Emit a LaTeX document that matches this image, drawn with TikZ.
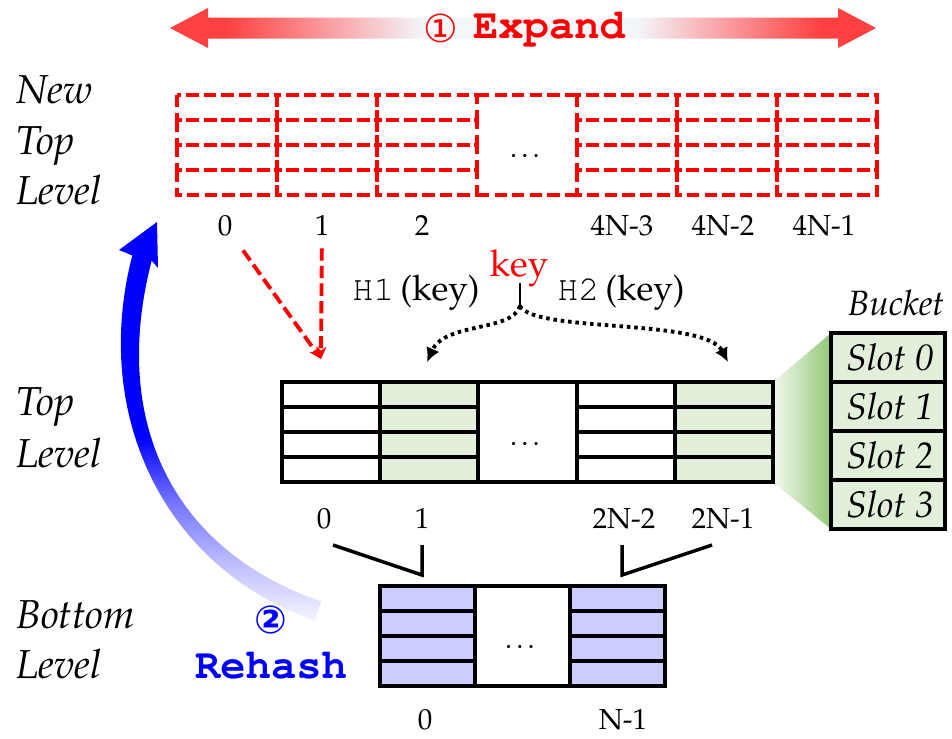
\documentclass[tikz,border=0pt]{standalone}
\usepackage{fontspec}
\usepackage[T1]{fontenc}
\usepackage{mathpazo}
\newfontfamily\circfont{DejaVu Sans}
\newcommand\cour{\fontfamily{pcr}\selectfont}
\usetikzlibrary{arrows.meta}

\definecolor{newred}{RGB}{255,0,0}
\definecolor{arrowred}{RGB}{255,64,64}
\definecolor{paleblue}{RGB}{243,247,252}
\definecolor{cellgreen}{RGB}{226,239,218}
\definecolor{bucketgreen}{RGB}{146,200,118}
\definecolor{cellblue}{RGB}{204,204,255}
\definecolor{rehashblue}{RGB}{0,0,255}

% path bbox is mapped onto 25bp..75bp of the shading
\pgfdeclarehorizontalshading{expandfade}{100bp}{color(0bp)=(arrowred); color(29bp)=(arrowred);
  color(43bp)=(paleblue); color(58bp)=(paleblue); color(71bp)=(arrowred); color(100bp)=(arrowred)}
\pgfdeclareverticalshading{rehashfade}{100bp}{color(0bp)=(rehashblue!4); color(25bp)=(rehashblue!4);
  color(32bp)=(rehashblue!25); color(40bp)=(rehashblue!55); color(48bp)=(rehashblue); color(100bp)=(rehashblue)}

\begin{document}
\begin{tikzpicture}[x=0.02cm, y=-0.02cm]
  \tikzset{
    cellline/.style = {line width=2.2pt},
    newcell/.style  = {draw=newred, line width=2.2pt, dash pattern=on 7pt off 3pt},
    idx/.style      = {anchor=base, font=\fontsize{16.5}{18}\selectfont},
    lvl/.style      = {anchor=base west, inner sep=0pt, font=\fontsize{23}{28}\selectfont\itshape},
    dotsl/.style    = {anchor=base, font=\fontsize{16}{18}\selectfont},
    slot/.style     = {font=\fontsize{21}{24}\selectfont\itshape},
    hashlbl/.style  = {anchor=base, font=\fontsize{20}{24}\selectfont},
    newlink/.style  = {newred, line width=2.2pt, dash pattern=on 7pt off 3pt,
                       -{Stealth[length=7pt,width=6pt]}},
    hashlink/.style = {line width=2.2pt, dash pattern=on 2pt off 2.2pt,
                       -{Latex[length=8pt,width=8pt]}},
  }
  \fill[white] (0,0) rectangle (952,738);
  \useasboundingbox (0,0) rectangle (952,738);

  % step 1: expand
  \shade[shading=expandfade] (170,28) -- (208,8) -- (208,17.5) -- (838,17.5) -- (838,8)
    -- (876,28) -- (838,48) -- (838,38.5) -- (208,38.5) -- (208,48) -- cycle;
  \node[text=newred, font=\circfont\fontsize{22}{24}\selectfont] (one) at (441,28) {①};
  \node[anchor=base, text=newred, font=\cour\bfseries\fontsize{24}{26}\selectfont] (expand) at (549,38) {Expand};

  % level names
  \foreach \w/\y [count=\i] in {New/103, Top/154, Level/204}
    \node[lvl] (newtop\i) at (16,\y) {\w};
  \foreach \w/\y [count=\i] in {Top/415, Level/467}
    \node[lvl] (top\i) at (16,\y) {\w};
  \foreach \w/\y [count=\i] in {Bottom/628, Level/678}
    \node[lvl] (bottom\i) at (16,\y) {\w};

  % new top level, 4N buckets
  \foreach \c in {0,1,2,4,5,6}
    \foreach \r in {0,...,3}
      \draw[newcell] (177+100*\c,95+25*\r) rectangle ++(100,25);
  \draw[newcell] (477,95) -- (577,95) (477,195) -- (577,195);
  \node[dotsl] (newdots) at (527,157) {\dots};
  \foreach \t/\x in {0/225, 1/322, 2/422, 4N-3/622, 4N-2/723, 4N-1/824}
    \node[idx] (new-\t) at (\x,235) {\t};

  % bucket zoom
  \shade[left color=cellgreen!40!white, right color=bucketgreen]
    (773,382) -- (831,333) -- (831,529) -- (773,482) -- cycle;
  \fill[cellgreen] (831,333) rectangle (945,529);
  \foreach \r in {1,2,3}
    \draw[cellline] (831,333+49*\r) -- ++(114,0);
  \draw[cellline] (831,333) rectangle (945,529);
  \foreach \r in {0,...,3}
    \node[slot] (slot\r) at (890,357.5+49*\r) {Slot \r};
  \node[anchor=base, font=\fontsize{20}{24}\selectfont\itshape] (bucket) at (896,315) {Bucket};

  % top level, 2N buckets
  \foreach \c in {1,4}
    \fill[cellgreen] (282+98.2*\c,382) rectangle ++(98.2,100);
  \foreach \c in {0,1,3,4}
    \foreach \r in {1,2,3}
      \draw[cellline] (282+98.2*\c,382+25*\r) -- ++(98.2,0);
  \foreach \c in {1,...,4}
    \draw[cellline] (282+98.2*\c,382) -- ++(0,100);
  \draw[cellline] (282,382) rectangle (773,482);
  \node[dotsl] (topdots) at (527,445) {\dots};
  \foreach \t/\x in {0/324, 1/422, 2N-2/624, 2N-1/723}
    \node[idx] (top-\t) at (\x,528) {\t};

  % bottom level, N buckets
  \foreach \c in {0,2}
    \fill[cellblue] (380+95*\c,586) rectangle ++(95,100);
  \foreach \c in {0,2}
    \foreach \r in {1,2,3}
      \draw[cellline] (380+95*\c,586+25*\r) -- ++(95,0);
  \draw[cellline] (475,586) -- (475,686) (570,586) -- (570,686);
  \draw[cellline] (380,586) rectangle (665,686);
  \node[dotsl] (botdots) at (522,648) {\dots};
  \foreach \t/\x in {0/425, N-1/623}
    \node[idx] (bot-\t) at (\x,729) {\t};

  % old slots map into the new table
  \coordinate (slotin) at (321,359);
  \draw[newlink, shorten <=6pt] (new-0) -- (slotin);
  \draw[newlink, shorten <=4pt] (new-1) -- (slotin);

  % two hash choices for a key
  \node[anchor=base, text=newred, inner sep=0pt, font=\fontsize{21}{24}\selectfont] (key) at (519,276) {key};
  \node[hashlbl] (h1) at (416,300) {{\cour H1}\,(key)};
  \node[hashlbl] (h2) at (621,300) {{\cour H2}\,(key)};
  \coordinate (stem) at (520,283);
  \coordinate (split) at (520,306);
  \coordinate (pick1) at (427,362);
  \coordinate (pick2) at (728,362);
  \draw[line width=1.6pt] (stem) -- (split);
  \draw[hashlink] (split) .. controls (512,332) and (445,322) .. (pick1);
  \draw[hashlink] (split) .. controls (535,333) and (705,318) .. (pick2);

  % pairs of top buckets fold into one bottom bucket
  \coordinate (fa) at (333,545);
  \coordinate (fb) at (422,575);
  \coordinate (fc) at (422,545);
  \coordinate (fd) at (622,545);
  \coordinate (fe) at (622,575);
  \coordinate (ff) at (712,545);
  \draw[line width=2pt] (fa) -- (fb) -- (fc);
  \draw[line width=2pt] (fd) -- (fe) -- (ff);

  % step 2: rehash
  \shade[shading=rehashfade]
    (157,222) -- (158,268) -- (151.7,260.6)
    .. controls (109.7,422.6) and (173.3,550.5) .. (321.3,601.5)
    -- (314.7,620.5)
    .. controls (166.7,569.5) and (90.3,417.4) .. (132.3,255.4)
    -- (119,250) -- cycle;
  \node[text=rehashblue, font=\circfont\bfseries\fontsize{22}{24}\selectfont] (two) at (271,620) {②};
  \node[anchor=base, text=rehashblue, font=\cour\bfseries\fontsize{24}{26}\selectfont] (rehash) at (271,678) {Rehash};
\end{tikzpicture}
\end{document}
